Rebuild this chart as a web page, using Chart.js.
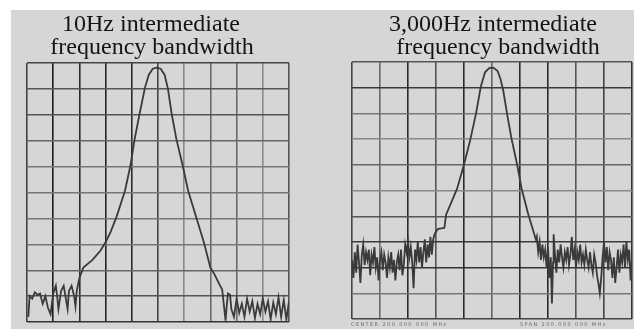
<!DOCTYPE html>
<html>
<head>
<meta charset="utf-8">
<script src="https://cdn.jsdelivr.net/npm/chart.js@4"></script>
<style>
  body { margin: 0; background: #fff; }
  #page { position: relative; width: 634px; height: 329px; overflow: hidden; }
  #bg { position: absolute; left: 11px; top: 10px; right: 0; bottom: 0; background: #d6d6d6; }
  canvas { position: absolute; top: 0; }
  .ttl { position: absolute; font-family: "Liberation Serif", "Times New Roman", serif; font-size: 24px;
         line-height: 23px; color: #141414; white-space: nowrap; transform: translateX(-50%); }
  .tiny { position: absolute; font-family: "DejaVu Sans", sans-serif; font-size: 5px; color: #6a6a6a;
          letter-spacing: 1.4px; white-space: nowrap; }
</style>
</head>
<body>
<div id="page">
  <div id="bg"></div>
  <canvas id="left" width="317" height="329" style="left:0"></canvas>
  <canvas id="right" width="317" height="329" style="left:317px"></canvas>
  <div class="ttl" style="left:151px; top:12px">10Hz intermediate</div>
  <div class="ttl" style="left:152px; top:35px">frequency bandwidth</div>
  <div class="ttl" style="left:493px; top:12px">3,000Hz intermediate</div>
  <div class="ttl" style="left:498px; top:35px">frequency bandwidth</div>
  <div class="tiny" style="left:351px; top:321px">CENTER 200.000 000 MHz</div>
  <div class="tiny" style="left:520px; top:321px">SPAN 200.000 000 MHz</div>
</div>
<script>
// horizontal position in screen divisions (0-10), level in divisions (0-10)
const narrowX = [0.05, 0.1, 0.2, 0.3, 0.4, 0.5, 0.6, 0.7, 0.8, 0.9, 1.0, 1.1, 1.15, 1.2, 1.3, 1.4, 1.5, 1.55,
  1.6, 1.7, 1.8, 1.85, 1.9, 2.0, 2.15, 2.5, 2.8, 3.0, 3.2, 3.42, 3.74, 3.95, 4.11, 4.3, 4.5, 4.65, 4.8,
  4.95, 5.1, 5.25, 5.38, 5.52, 5.7, 5.94, 6.15, 6.45, 6.75, 7.0, 7.15, 7.34, 7.45,
  7.52, 7.58, 7.62, 7.67, 7.75, 7.8, 7.9, 8.0, 8.1, 8.2, 8.3, 8.4, 8.5, 8.6, 8.7, 8.8, 8.9, 9.0, 9.1,
  9.2, 9.3, 9.4, 9.5, 9.6, 9.7, 9.8, 9.9, 10.0];
const narrowLevel = [0.2, 1.0, 0.9, 1.15, 1.05, 1.1, 0.7, 1.0, 0.55, 0.3, 1.1, 1.4, 1.0, 0.5, 1.2, 1.4, 0.8, 0.5,
  1.2, 1.4, 1.0, 0.6, 1.2, 1.7, 2.1, 2.4, 2.75, 3.08, 3.5, 4.07, 5.07, 6.05, 7.07, 8.05, 9.04, 9.55, 9.78,
  9.82, 9.78, 9.55, 9.0, 8.05, 7.07, 6.05, 5.07, 4.07, 3.08, 2.1, 1.85, 1.46, 1.25,
  0.6, 0.05, 0.6, 1.1, 1.05, 0.5, 0.2, 0.9, 0.35, 0.7, 0.2, 0.9, 0.4, 0.8, 0.15, 0.7, 0.3, 0.9, 0.4,
  0.8, 0.1, 0.75, 0.3, 0.95, 0.2, 0.85, 0.1, 0.8];

const wideX = [0.0, 0.05, 0.1, 0.15, 0.2, 0.25, 0.3, 0.35, 0.4, 0.45, 0.5, 0.55, 0.6, 0.65, 0.7, 0.75, 0.8,
  0.85, 0.9, 0.95, 1.0, 1.05, 1.1, 1.15, 1.2, 1.25, 1.3, 1.35, 1.4, 1.45, 1.5, 1.55, 1.6, 1.65, 1.7, 1.75,
  1.8, 1.85, 1.9, 1.95, 2.0, 2.05, 2.1, 2.15, 2.2, 2.25, 2.3, 2.35, 2.4, 2.45, 2.5, 2.55, 2.6, 2.65, 2.7,
  2.75, 2.8, 2.85, 2.9, 2.95, 3.06, 3.3, 3.36, 3.75, 4.01, 4.23, 4.43, 4.6, 4.75, 4.9, 5.05, 5.2, 5.3,
  5.4, 5.55, 5.7, 5.89, 6.06, 6.3, 6.57, 6.6, 6.65, 6.7, 6.75, 6.8, 6.85, 6.9, 6.95, 7.0, 7.05, 7.1, 7.14,
  7.18, 7.2, 7.25, 7.3, 7.35, 7.4, 7.45, 7.5, 7.55, 7.6, 7.65, 7.7, 7.75, 7.8, 7.85, 7.9, 7.95, 8.0, 8.05,
  8.1, 8.15, 8.2, 8.25, 8.3, 8.35, 8.4, 8.45, 8.5, 8.55, 8.6, 8.65, 8.7, 8.75, 8.8, 8.85, 8.9, 8.95, 9.0,
  9.05, 9.1, 9.15, 9.2, 9.25, 9.3, 9.35, 9.4, 9.45, 9.5, 9.55, 9.6, 9.65, 9.7, 9.75, 9.8, 9.85, 9.9, 9.95,
  10.0];
const wideLevel = [2.3, 1.6, 2.6, 1.8, 2.9, 2.2, 1.4, 2.5, 2.9, 2.1, 2.6, 2.3, 2.7, 1.7, 2.5, 2.2, 2.8,
  2.0, 2.4, 1.5, 2.3, 2.6, 1.9, 2.5, 2.2, 1.6, 2.4, 2.0, 2.6, 1.8, 2.3, 1.5, 2.2, 2.5, 1.9, 2.7,
  1.7, 2.1, 2.9, 2.6, 3.0, 2.4, 2.8, 2.2, 1.2, 2.7, 2.3, 3.0, 2.2, 2.8, 2.0, 2.6, 3.1, 2.2, 2.9,
  2.4, 3.2, 2.5, 3.1, 3.3, 3.5, 3.55, 4.06, 5.06, 6.05, 7.0, 8.0, 9.04, 9.6, 9.76, 9.78, 9.65, 9.35,
  8.9, 7.9, 7.0, 6.05, 5.06, 4.06, 3.08, 3.2, 2.6, 3.0, 2.3, 2.9, 2.4, 2.7, 2.0, 2.8, 1.6, 2.4, 0.6,
  2.2, 3.3, 2.5, 1.8, 2.7, 2.2, 2.9, 2.4, 2.0, 2.6, 2.3, 2.8, 2.1, 2.5, 3.2, 2.3, 2.7, 2.0, 2.6,
  2.3, 2.9, 2.2, 2.5, 2.1, 2.7, 2.3, 2.0, 2.6, 2.1, 1.8, 2.5, 2.2, 1.7, 1.4, 1.0, 1.6, 2.4, 3.0,
  2.2, 2.8, 1.9, 2.6, 2.3, 1.6, 2.4, 1.4, 2.0, 2.7, 1.8, 2.5, 2.2, 2.9, 2.0, 3.0, 2.3, 2.7, 1.5,
  2.4];

// scan-darkness of each graticule line, index = division number
const leftVert  = ['#444', '#1e1e1e', '#2a2a2a', '#252525', '#2a2a2a', '#444', '#8a8a8a', '#6a6a6a', '#6a6a6a', '#8a8a8a', '#555'];
const leftHorz  = ['#333', '#555', '#666', '#777', '#777', '#777', '#777', '#666', '#555', '#555', '#444'];
const rightVert = ['#444', '#6a6a6a', '#2a2a2a', '#555', '#2a2a2a', '#666', '#2a2a2a', '#2a2a2a', '#555', '#444', '#333'];
const rightHorz = ['#444', '#777', '#333', '#3a3a3a', '#555', '#888', '#666', '#888', '#777', '#3a3a3a', '#555'];

function makeTrace(id, xs, ys, vert, horz, pad) {
  const pts = xs.map((x, i) => ({ x: x, y: ys[i] }));
  new Chart(document.getElementById(id), {
    type: 'line',
    data: {
      datasets: [{
        data: pts,
        borderColor: '#3a3a3a',
        borderWidth: 1.8,
        pointRadius: 0,
        tension: 0,
        fill: false
      }]
    },
    options: {
      responsive: false,
      animation: false,
      layout: { padding: pad },
      plugins: { legend: { display: false }, tooltip: { enabled: false } },
      scales: {
        x: {
          type: 'linear', min: 0, max: 10,
          ticks: { display: false, stepSize: 1 },
          grid: { drawTicks: false, lineWidth: 1.6, color: c => vert[Math.round(c.tick.value)] || '#555' },
          border: { display: false }
        },
        y: {
          min: 0, max: 10,
          ticks: { display: false, stepSize: 1 },
          grid: { drawTicks: false, lineWidth: 1.4, color: c => horz[Math.round(c.tick.value)] || '#555' },
          border: { display: false }
        }
      }
    }
  });
}

makeTrace('left', narrowX, narrowLevel, leftVert, leftHorz, { left: 27, right: 28, top: 63, bottom: 7 });
makeTrace('right', wideX, wideLevel, rightVert, rightHorz, { left: 35, right: 2, top: 62, bottom: 10 });
</script>
</body>
</html>
